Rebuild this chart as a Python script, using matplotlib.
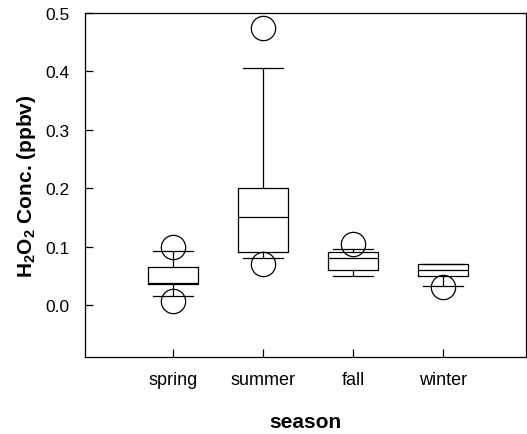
import matplotlib
matplotlib.use("Agg")
import matplotlib.pyplot as plt

plt.rcParams['font.family'] = ['Liberation Sans', 'DejaVu Sans']
plt.rcParams['mathtext.default'] = 'regular'

seasons = ["spring", "summer", "fall", "winter"]
q1 = [0.036, 0.091, 0.060, 0.050]
median = [0.038, 0.151, 0.081, 0.060]
q3 = [0.065, 0.200, 0.091, 0.070]
whislo = [0.015, 0.081, 0.050, 0.033]
whishi = [0.093, 0.405, 0.096, 0.070]
fliers = [[0.100, 0.007], [0.474, 0.070], [0.105], [0.031]]
yticks = [0.0, 0.1, 0.2, 0.3, 0.4, 0.5]
ytick_labels = ["0.0", "0.1", "0.2", "0.3", "0.4", "0.5"]

stats = []
for i, s in enumerate(seasons):
    stats.append(dict(label=s, q1=q1[i], med=median[i], q3=q3[i],
                      whislo=whislo[i], whishi=whishi[i], fliers=fliers[i]))

fig = plt.figure(figsize=(5.27, 4.35), dpi=100)
ax = fig.add_axes([0.161, 0.177, 0.837, 0.791])

lw = 0.9
ax.bxp(stats, positions=[1, 2, 3, 4], widths=0.555, capwidths=0.444,
       boxprops=dict(color='black', linewidth=lw),
       medianprops=dict(color='black', linewidth=lw),
       whiskerprops=dict(color='black', linewidth=lw),
       capprops=dict(color='black', linewidth=lw),
       flierprops=dict(marker='o', markersize=17.5, markerfacecolor='none',
                       markeredgecolor='black', markeredgewidth=0.9))

ax.set_xlim(0.022, 4.92)
ax.set_ylim(-0.089, 0.5)
ax.set_yticks(yticks)
ax.set_yticklabels(ytick_labels)
ax.set_xticks([1, 2, 3, 4])
ax.set_xticklabels(seasons)
ax.tick_params(direction='in', length=6, width=0.9)
ax.tick_params(axis='y', labelsize=12.5, pad=11)
ax.tick_params(axis='x', labelsize=13, pad=10)
for sp in ax.spines.values():
    sp.set_linewidth(0.9)

ax.set_xlabel("season", fontsize=15, fontweight='bold', labelpad=17)
ax.set_ylabel("H$_2$O$_2$ Conc. (ppbv)", fontsize=15, fontweight='bold', labelpad=5)

fig.savefig("out.png", dpi=100)
